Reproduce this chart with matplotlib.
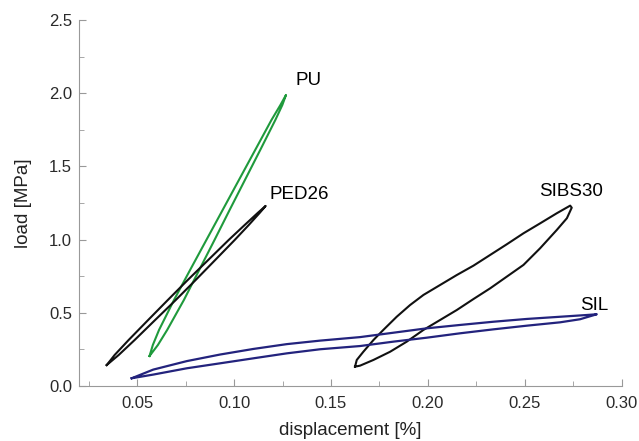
import matplotlib.pyplot as plt
from matplotlib.ticker import MultipleLocator

plt.rcParams['font.family'] = ['Liberation Sans', 'DejaVu Sans']

# hysteresis loops (x: displacement [%], y: load [MPa])
pu_x = [0.0564, 0.0581, 0.0613, 0.0690, 0.0773, 0.0857, 0.0941, 0.1025, 0.1109, 0.1193, 0.1239,
        0.1268,
        0.1249, 0.1213, 0.1135, 0.1056, 0.0977, 0.0899, 0.0820, 0.0741, 0.0655, 0.0607, 0.0564]
pu_y = [0.205, 0.280, 0.383, 0.587, 0.792, 0.997, 1.202, 1.407, 1.612, 1.817, 1.919,
        1.988,
        1.919, 1.817, 1.612, 1.407, 1.202, 0.997, 0.792, 0.587, 0.383, 0.280, 0.205]

ped_x = [0.0343, 0.0384, 0.0456, 0.0557, 0.0658, 0.0761, 0.0867, 0.0972, 0.1055, 0.1122,
         0.1163,
         0.1132, 0.1076, 0.1003, 0.0903, 0.0802, 0.0699, 0.0593, 0.0487, 0.0405, 0.0343]
ped_y = [0.143, 0.212, 0.314, 0.451, 0.587, 0.724, 0.861, 0.997, 1.100, 1.182,
         1.230,
         1.182, 1.100, 0.997, 0.861, 0.724, 0.587, 0.451, 0.314, 0.212, 0.143]

sibs_x = [0.1624, 0.1633, 0.1667, 0.1719, 0.1770, 0.1839, 0.1908, 0.1977, 0.2063, 0.2149,
          0.2235, 0.2321, 0.2407, 0.2493, 0.2579, 0.2665, 0.2734,
          0.2742, 0.2717, 0.2665, 0.2579, 0.2493, 0.2407, 0.2321, 0.2235, 0.2149, 0.2063,
          0.1977, 0.1891, 0.1805, 0.1719, 0.1650, 0.1624]
sibs_y = [0.132, 0.178, 0.234, 0.314, 0.383, 0.473, 0.553, 0.622, 0.690, 0.758,
          0.822, 0.895, 0.968, 1.043, 1.111, 1.180, 1.232,
          1.218, 1.146, 1.066, 0.941, 0.827, 0.747, 0.667, 0.594, 0.519, 0.451,
          0.383, 0.303, 0.234, 0.178, 0.139, 0.132]

sil_x = [0.0472, 0.0583, 0.0756, 0.0928, 0.1099, 0.1272, 0.1444, 0.1650, 0.1822, 0.1994,
         0.2166, 0.2338, 0.2510, 0.2682, 0.2820, 0.2871,
         0.2785, 0.2682, 0.2510, 0.2338, 0.2166, 0.1994, 0.1822, 0.1650, 0.1444, 0.1272,
         0.1099, 0.0928, 0.0756, 0.0583, 0.0472]
sil_y = [0.053, 0.112, 0.170, 0.215, 0.253, 0.286, 0.310, 0.334, 0.364, 0.394,
         0.417, 0.439, 0.458, 0.473, 0.485, 0.490,
         0.456, 0.435, 0.412, 0.387, 0.360, 0.330, 0.303, 0.273, 0.251, 0.223,
         0.189, 0.155, 0.121, 0.078, 0.053]

fig = plt.figure(figsize=(6.39, 4.41), dpi=100)
ax = fig.add_axes([0.1236, 0.1247, 0.8494, 0.83])

ax.plot(pu_x, pu_y, color='#1f9a3c', lw=1.5)
ax.plot(ped_x, ped_y, color='#111111', lw=1.5)
ax.plot(sibs_x, sibs_y, color='#111111', lw=1.5)
ax.plot(sil_x, sil_y, color='#23237d', lw=1.6)

ax.text(0.1315, 2.09, 'PU', fontsize=13.5, va='center')
ax.text(0.1182, 1.305, 'PED26', fontsize=13.5, va='center')
ax.text(0.2575, 1.327, 'SIBS30', fontsize=13.5, va='center')
ax.text(0.2785, 0.553, 'SIL', fontsize=13.5, va='center')

ax.set_xlim(0.02, 0.30)
ax.set_ylim(0, 2.5)
ax.xaxis.set_major_locator(MultipleLocator(0.05))
ax.xaxis.set_minor_locator(MultipleLocator(0.025))
ax.yaxis.set_major_locator(MultipleLocator(0.5))
ax.yaxis.set_minor_locator(MultipleLocator(0.25))
ax.set_xticks([0.05, 0.10, 0.15, 0.20, 0.25, 0.30])
ax.set_xticklabels(['0.05', '0.10', '0.15', '0.20', '0.25', '0.30'])

for s in ['top', 'right']:
    ax.spines[s].set_visible(False)
for s in ['left', 'bottom']:
    ax.spines[s].set_color('#999999')
ax.tick_params(which='both', direction='in', colors='#999999', labelcolor='#2a2a2a', labelsize=12)
ax.tick_params(which='major', length=5)
ax.tick_params(which='minor', length=3.5)
ax.tick_params(axis='x', pad=7)
ax.tick_params(axis='y', pad=5)

ax.set_xlabel('displacement [%]', fontsize=13.5, color='#222222', labelpad=8)
ax.set_ylabel('load [MPa]', fontsize=13.5, color='#222222', labelpad=12)

fig.savefig('out.png', dpi=100)
